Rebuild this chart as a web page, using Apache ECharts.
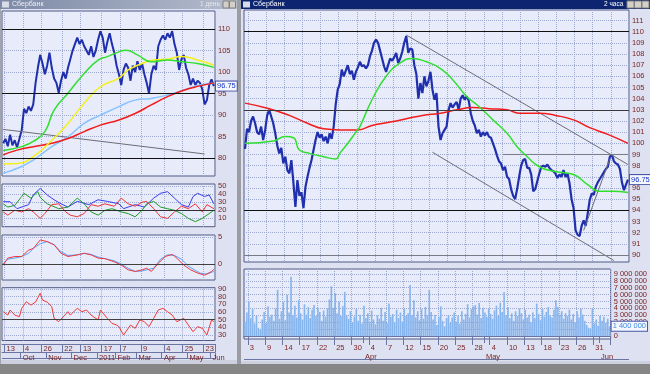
<!DOCTYPE html>
<html><head><meta charset="utf-8">
<script src="https://cdn.jsdelivr.net/npm/echarts@6.0.0/dist/echarts.min.js"></script>
<style>html,body{margin:0;padding:0;background:#dde1f1;}#c{width:650px;height:374px;}</style>
</head><body><div id="c"></div>
<script>
// ---------- LEFT WINDOW (daily, 2 trading days per category) ----------
const leftPrice = [83.5,84.5,82.8,85.5,83.0,84.2,82.5,84.5,86.5,91.5,
  90.5,92.0,91.0,92.5,97.5,101.0,104.0,102.0,99.5,101.5,
  104.5,101.0,98.5,97.5,95.2,98.0,100.0,98.5,101.0,103.0,
  105.0,106.5,108.0,106.5,107.5,106.0,105.0,104.0,106.0,103.5,
  105.0,107.5,109.5,108.0,104.5,107.0,109.0,106.5,104.5,101.5,
  99.5,97.0,100.5,102.0,101.0,98.0,101.5,100.0,102.5,100.5,
  102.0,99.5,97.5,95.0,99.5,101.5,100.5,106.0,107.5,108.5,
  107.5,109.0,108.0,109.5,106.5,104.5,100.5,103.0,104.0,101.0,
  99.5,97.0,98.5,97.0,98.0,97.5,96.0,92.5,93.5,97.0,98.3,96.75];
const leftGreenMA = [[0,81.8],[8,82.7],[13,83.9],[18,86.2],[22,91.2],[28,95.1],[35,99.7],[41,102.8],[45,103.6],[50,104.7],[53,105.1],[58,104.0],[64,102.4],[71,102.8],[77,102.4],[84,102.0],[91,101.1]];
const leftYellowMA = [[0,78.7],[6,78.8],[13,80.4],[21,84.2],[28,88.1],[35,92.8],[42,96.6],[50,98.6],[54,100.5],[60,102.0],[65,102.8],[71,103.0],[77,103.6],[84,102.8],[91,101.6]];
const leftBlueMA = [[0,76.5],[8,78.1],[13,79.6],[21,82.7],[28,85.0],[35,88.1],[42,90.0],[50,92.0],[57,93.5],[64,93.9],[71,94.7],[78,95.8],[85,97.0],[91,97.4]];
const leftRedMA = [[0,80.8],[6,81.9],[13,82.7],[21,83.5],[28,84.6],[35,86.2],[42,87.7],[50,88.9],[57,90.4],[64,92.4],[71,94.3],[78,95.8],[85,96.8],[91,97.5]];
const leftTrend = [[0,86.7],[87,81.0]];
const leftLevels = [110, 95, 80];
const leftLast = 96.75;

const dmiBlue = [[0,30.6],[3,30.6],[6,22],[11,27],[13,39],[16,47],[19,39],[22,33],[25,28],[28,24],[32,31],[37,27],[41,33],[45,31],[50,28],[52,22],[57,27],[61,24],[65,35],[68,41],[71,43],[74,35],[77,27],[80,24],[82,37],[84,41],[87,37],[89,39],[91,28]];
const dmiGreen = [[0,28],[2,24],[5,26],[8,37],[9,41],[12,35],[15,43],[16,36],[19,28],[24,22],[28,24],[32,35],[35,28],[38,18],[41,14],[44,20],[47,22],[51,18],[54,16],[57,12],[60,20],[62,28],[65,31],[68,24],[71,22],[74,20],[77,16],[80,10],[83,6],[86,10],[88,14],[91,20]];
const dmiRed = [[0,18],[2,14],[5,20],[8,18],[11,22],[13,18],[16,10],[18,16],[21,27],[24,28],[27,18],[29,14],[32,12],[35,16],[38,27],[41,25],[44,28],[48,25],[51,35],[54,28],[57,25],[60,30],[62,31],[65,22],[68,12],[71,10],[74,18],[77,25],[80,22],[83,28],[86,18],[88,27],[91,22]];
const macdRed = [[0,-0.2],[2,1.1],[5,1.4],[8,1.4],[11,2.6],[13,2.9],[16,4.5],[19,4.2],[22,3.6],[25,2.0],[28,1.4],[32,1.7],[35,2.0],[38,1.7],[41,1.1],[44,1.0],[48,0.4],[51,-0.2],[54,-1.1],[57,-1.4],[60,-1.1],[62,-0.8],[64,-1.4],[67,0.1],[70,1.4],[73,1.8],[75,1.1],[78,-0.2],[81,-1.1],[84,-1.7],[87,-2.1],[90,-1.4],[91,-1.0]];
const macdBlue = [[0,0],[2,0.9],[5,1.1],[8,1.4],[11,2.0],[13,2.9],[16,3.8],[19,4.2],[22,3.6],[25,2.3],[28,1.6],[32,1.7],[35,2.0],[38,1.8],[41,1.3],[44,1.0],[48,0.6],[51,0],[54,-0.8],[57,-1.4],[60,-1.3],[62,-1.1],[65,-0.8],[68,0.9],[71,1.7],[74,1.6],[77,0.9],[80,-0.4],[83,-1.2],[85,-1.7],[88,-1.9],[91,-1.4]];
const rsiRed = [[0,60.4],[2,56],[3,62.6],[5,56],[7,53.9],[8,64.8],[10,73.4],[12,69],[14,73],[16,84.4],[17,75.6],[19,73],[21,67],[22,51.8],[24,47.4],[26,53.9],[28,60.4],[29,56],[32,64.8],[34,60.4],[36,62.6],[38,56],[41,49.6],[42,62.6],[45,51.8],[47,45.2],[49,43],[50,40.9],[52,30],[55,43],[57,38.7],[59,49.6],[61,47.4],[63,40.9],[65,51.8],[67,62.6],[69,64.8],[71,60.4],[73,56],[75,47.4],[78,51.8],[80,43],[82,34.3],[84,40.9],[86,38.7],[88,30],[90,49.6],[91,47.4]];

const leftDayIdx = [1, 9, 17, 26, 34, 43, 51, 60, 70, 78, 87];
const leftDayLab = ['13','4','26','22','13','17','7','9','4','25','23'];
const leftMonIdx = [8, 19, 30, 41, 49, 58, 69, 80, 90];
const leftMonLab = ['Oct','Nov','Dec','2011','Feb','Mar','Apr','May','Jun'];
const leftPriceTicks = [80, 85, 90, 95, 100, 105, 110];
const dmiTicks = [10, 20, 30, 40, 50];
const macdTicks = [0, 5];
const rsiTicksA = [30, 50, 70, 90];
const rsiTicksB = [40, 60, 80];

// ---------- RIGHT WINDOW (2-hour, 1/3 trading day per category) ----------
const rightPrice = [99.5,101.3,101.0,102.0,102.4,101.8,101.0,100.8,101.5,100.3,
  101.2,102.5,103.0,102.4,101.8,100.9,99.8,99.1,99.6,98.2,
  98.8,97.6,97.3,98.5,96.5,94.3,96.7,95.3,95.6,94.2,
  96.1,97.0,97.8,98.5,99.4,100.3,101.0,100.5,100.8,100.2,
  100.6,100.0,100.9,100.4,101.5,103.5,104.8,105.3,106.6,106.0,
  106.5,107.0,106.2,106.5,105.7,106.4,106.8,107.3,106.9,107.0,
  106.7,107.0,107.8,108.3,109.0,109.3,109.0,108.3,107.6,106.9,
  106.4,107.0,107.6,107.4,107.7,108.1,107.2,107.6,108.2,109.0,
  109.6,108.1,108.5,108.4,107.0,106.2,104.0,105.4,104.5,106.0,
  105.1,105.6,106.4,104.8,103.9,104.5,101.5,100.3,100.9,101.2,
  101.5,103.0,103.6,103.2,103.5,103.7,103.0,104.0,104.3,103.9,
  104.2,103.8,102.7,102.0,101.6,100.9,101.2,100.6,101.0,100.7,
  101.0,100.6,100.5,100.0,99.5,98.9,98.4,98.2,97.6,97.9,
  97.0,96.8,95.9,95.3,95.0,95.9,97.0,98.0,98.5,98.6,
  97.8,97.8,97.2,95.7,95.9,96.6,97.3,97.9,98.0,97.9,
  98.1,97.8,97.6,97.5,97.3,96.9,97.2,97.0,97.6,97.0,
  97.3,96.4,95.0,94.2,92.2,91.8,91.7,92.6,93.1,92.6,
  93.7,94.9,95.5,95.4,96.1,96.5,96.8,97.1,97.4,97.7,
  97.9,98.8,99.0,98.4,98.2,98.1,97.7,96.5,95.8,96.3,96.75];
const rightGreenMA = [[0,100.0],[14,100.2],[20,100.6],[24,100.5],[27,99.4],[32,99.1],[39,98.8],[45,98.6],[47,99.1],[51,100.0],[55,101.0],[57,101.5],[63,103.9],[70,106.0],[77,107.2],[83,107.6],[90,107.3],[97,106.7],[103,105.7],[110,104.2],[116,103.3],[123,102.1],[130,100.9],[135,99.7],[140,98.8],[146,97.9],[153,97.5],[163,97.2],[170,96.3],[176,95.7],[182,95.7],[190,95.6]];
const rightRedMA = [[0,103.6],[12,103.1],[22,102.5],[31,101.8],[39,101.3],[47,101.2],[56,101.2],[63,101.6],[72,101.9],[80,102.2],[88,102.5],[97,102.7],[105,103.0],[113,103.2],[121,103.1],[130,103.0],[136,102.7],[146,102.7],[154,102.5],[163,102.1],[171,101.4],[180,100.8],[190,100.0]];
const channelUpper = [[80,109.7],[190,98.1]];
const channelLower = [[93,99.2],[183,89.5]];
const supportLine = [[168,92.2],[181,98.6]];
const resist99 = [[128,99],[190,99]];
const rightLevels = [110, 103, 94, 90];
const rightLast = 96.75;
const rightVol = [2.1,3.4,5.0,2.6,3.9,1.8,2.9,1.2,0.9,2.4,
  3.5,1.9,4.3,2.8,3.1,2.2,4.0,6.7,2.5,3.6,
  5.0,2.3,6.0,3.4,8.6,3.0,4.4,2.7,5.2,3.3,
  2.4,4.6,3.1,4.2,2.6,3.8,4.5,2.9,4.1,3.5,
  2.2,3.7,2.8,4.0,5.3,7.2,4.1,6.2,3.3,5.0,
  2.9,4.3,6.4,3.0,2.5,3.6,1.9,2.8,3.9,2.2,
  3.1,1.8,4.4,2.6,3.3,2.0,3.7,2.4,1.7,3.0,
  2.5,4.1,2.2,3.5,1.9,4.7,2.8,3.2,2.0,3.8,
  2.6,3.4,2.1,4.0,2.9,3.3,7.4,3.0,5.2,2.7,
  3.6,2.3,3.9,2.5,4.2,3.0,6.7,3.5,2.4,3.1,
  1.6,2.8,4.3,2.2,1.4,2.6,3.0,1.9,2.7,3.4,
  2.1,2.9,1.8,3.6,2.4,3.2,4.6,2.7,3.9,4.3,
  4.5,3.1,4.8,2.6,4.1,3.4,2.8,4.0,3.2,2.5,
  3.7,4.4,2.9,4.8,3.5,6.4,3.0,4.2,2.6,3.3,
  2.2,3.6,2.9,4.0,3.3,2.4,3.8,2.7,3.1,2.0,
  3.4,2.6,4.7,3.2,2.3,3.9,2.8,3.5,4.2,3.0,
  2.7,3.8,5.2,4.2,3.1,3.6,2.5,3.3,2.9,3.8,
  2.4,3.2,2.0,3.6,2.7,4.0,3.1,2.2,1.6,1.2,
  1.1,4.0,1.8,2.4,1.5,2.9,2.2,2.8,1.9,2.5,1.4];
const rightDayIdx = [2,11,20,29,38,47,56,65,74,83,92,101,110,119,128,137,146,155,164,173,182];
const rightDayLab = ['3','9','14','17','22','25','30','4','7','12','15','20','25','28','4','10','13','18','23','26','31'];
const rightMonIdx = [62, 125, 185];
const rightMonLab = ['Apr','May','Jun'];
const rightPriceTicks = [90,91,92,93,94,95,96,97,98,99,100,101,102,103,104,105,106,107,108,109,110,111];
const volTicksA = [0,2,4,6,8];
const volTicksB = [1,3,5,7,9];

// ---------- styling ----------
const FONT = 'Liberation Sans';
const LBL = '#7a2424';
const GRIDC = '#9ea9cf';
const PANEL_BG = '#e8ebf9';
const BORDER = '#4f5a86';
const BOXC = '#6b75a3';
const CLEAR = 'rgba(0,0,0,0)';

const leftCats = leftPrice.map((_, i) => String(i));
const rightCats = rightPrice.map((_, i) => String(i));

function inList(list) { return (i) => list.indexOf(i) >= 0; }

function xSplit(gridIndex, cats, idx) {
  return { type: 'category', gridIndex, data: cats, boundaryGap: true,
    axisLine: { show: false }, axisTick: { show: false }, axisLabel: { show: false },
    splitLine: { show: true, interval: inList(idx), lineStyle: { color: GRIDC, type: 'dotted', width: 1 } } };
}
function xLabels(gridIndex, cats, idx, labs, offset, tickLen) {
  const f = inList(idx);
  return { type: 'category', gridIndex, data: cats, boundaryGap: true, position: 'bottom', offset,
    axisLine: { show: true, lineStyle: { color: BOXC, width: 1 } },
    axisTick: { show: true, interval: f, length: tickLen, lineStyle: { color: BOXC, width: 1 } },
    axisLabel: { show: true, interval: f, formatter: (v, i) => { const p = idx.indexOf(i); return p >= 0 ? labs[p] : ''; },
      align: 'left', verticalAlign: 'top', margin: 1, padding: [0, 0, 0, 1], color: LBL, fontSize: 7.5, fontFamily: FONT, lineHeight: 8,
      hideOverlap: false },
    splitLine: { show: false } };
}
function yVal(gridIndex, min, max, ticks, fmt) {
  return { type: 'value', gridIndex, position: 'right', min, max,
    axisLine: { show: false },
    axisTick: { show: false, customValues: ticks },
    axisLabel: { show: true, customValues: ticks, formatter: fmt || ((v) => String(v)), color: LBL, fontSize: 7.5, fontFamily: FONT, margin: 3,
      lineHeight: 6, padding: 0, showMinLabel: true, showMaxLabel: true, hideOverlap: false },
    splitLine: { show: true, lineStyle: { color: GRIDC, type: 'dotted', width: 1 } } };
}
function fmtVol(v) {
  return String(Math.round(v * 1000000)).replace(/\B(?=(\d{3})+(?!\d))/g, ' ');
}
function line(xi, yi, data, color, width, smooth, extra) {
  return Object.assign({ type: 'line', xAxisIndex: xi, yAxisIndex: yi, data, symbol: 'none', showSymbol: false,
    smooth: smooth || false, lineStyle: { color, width }, itemStyle: { color }, silent: true, z: 3 }, extra || {});
}
function levelLines(levels, colors) {
  return levels.map((v, i) => ({ yAxis: v, lineStyle: { color: colors[i], type: 'solid', width: 1 }, label: { show: false } }));
}
function boxLabel(v, text, color) {
  return { yAxis: v, lineStyle: { color: CLEAR, width: 1, opacity: 1 }, label: { show: true, position: 'end', distance: 1, formatter: text,
    color: color, fontSize: 7.5, fontFamily: FONT, backgroundColor: '#f6f7ff', borderColor: '#4858a8', borderWidth: 1, padding: [1, 1, 0, 1] } };
}
const mlBase = { silent: true, symbol: ['none', 'none'], animation: false, z: 20 };

const grid = [
  { left: 2, top: 11, width: 213, height: 165 },
  { left: 2, top: 184, width: 213, height: 42.7 },
  { left: 2, top: 235, width: 213, height: 45 },
  { left: 2, top: 287.7, width: 213, height: 52.8 },
  { left: 244, top: 10, width: 385, height: 252 },
  { left: 244, top: 269, width: 385, height: 70 }
].map(g => Object.assign({ show: true, backgroundColor: PANEL_BG, borderColor: BORDER, borderWidth: 1, containLabel: false }, g));

const xAxis = [
  xSplit(0, leftCats, leftDayIdx),
  xSplit(1, leftCats, leftDayIdx),
  xSplit(2, leftCats, leftDayIdx),
  Object.assign(xLabels(3, leftCats, leftDayIdx, leftDayLab, 3.5, 8), { splitLine: { show: true, interval: inList(leftDayIdx), lineStyle: { color: GRIDC, type: 'dotted' } } }),
  xLabels(3, leftCats, leftMonIdx, leftMonLab, 12, 6.5),
  xSplit(4, rightCats, rightDayIdx),
  Object.assign(xLabels(5, rightCats, rightDayIdx, rightDayLab, 4, 9), { splitLine: { show: true, interval: inList(rightDayIdx), lineStyle: { color: GRIDC, type: 'dotted' } } }),
  xLabels(5, rightCats, rightMonIdx, rightMonLab, 13, 7)
];
const yAxis = [
  yVal(0, 75.89, 114.18, leftPriceTicks),
  yVal(1, -0.25, 52.47, dmiTicks),
  yVal(2, -3.0, 5.43, macdTicks),
  yVal(3, 22.83, 91.7, rsiTicksA),
  yVal(4, 89.37, 111.94, rightPriceTicks),
  yVal(5, -0.435, 9.72, volTicksA, fmtVol),
  yVal(3, 22.83, 91.7, rsiTicksB),
  yVal(5, -0.435, 9.72, volTicksB, fmtVol)
];

const lastVol = rightVol[rightVol.length - 1];
const series = [
  line(0, 0, leftPrice, '#1f2fae', 2, false, { markLine: Object.assign({}, mlBase, { data: levelLines(leftLevels, ['#101010', '#101010', '#101010']).concat([boxLabel(leftLast, String(leftLast), '#1838c0')]) }) }),
  line(0, 0, leftTrend, '#6d6d78', 1),
  line(0, 0, leftBlueMA, '#86c2ff', 1.5, true),
  line(0, 0, leftRedMA, '#f21c1c', 1.5, true),
  line(0, 0, leftYellowMA, '#f4f01c', 1.5, true),
  line(0, 0, leftGreenMA, '#2fe02f', 1.5, true),
  line(1, 1, dmiBlue, '#3a3cf0', 1, false, { markLine: Object.assign({}, mlBase, { data: levelLines([20], ['#303030']) }) }),
  line(1, 1, dmiGreen, '#1f9a2a', 1),
  line(1, 1, dmiRed, '#f03434', 1),
  line(2, 2, macdBlue, '#5aa2ff', 1, false, { markLine: Object.assign({}, mlBase, { data: levelLines([0], ['#404040']) }) }),
  line(2, 2, macdRed, '#f03a3a', 1),
  line(3, 3, rsiRed, '#f03a3a', 1, false, { markLine: Object.assign({}, mlBase, { data: levelLines([50], ['#404040']) }) }),
  line(5, 4, rightPrice, '#1f2fae', 2.2, false, { markLine: Object.assign({}, mlBase, { data: levelLines(rightLevels, ['#101010', '#3a3a3a', '#101010', '#7a7a84']).concat([boxLabel(rightLast, String(rightLast), '#1838c0')]) }) }),
  line(5, 4, channelUpper, '#6d6d78', 1),
  line(5, 4, channelLower, '#6d6d78', 1),
  line(5, 4, supportLine, '#6d6d78', 1),
  line(5, 4, resist99, '#7a7a84', 1),
  line(5, 4, rightRedMA, '#f21c1c', 1.5, true),
  line(5, 4, rightGreenMA, '#2fe02f', 1.5, true),
  { type: 'bar', xAxisIndex: 6, yAxisIndex: 5, data: rightVol, barCategoryGap: '15%', silent: true,
    itemStyle: { color: '#86b5ee' },
    markLine: Object.assign({}, mlBase, { data: [ boxLabel(lastVol, fmtVol(lastVol), '#3a8ae0') ] }) }
];

const T = (text, x, y, fill, size) => ({ type: 'text', x, y, silent: true, style: { text, fill, font: (size || 7) + 'px "' + FONT + '"', textVerticalAlign: 'top' } });
const R = (x, y, w, h, fill, stroke) => ({ type: 'rect', silent: true, shape: { x, y, width: w, height: h }, style: { fill: fill || 'none', stroke: stroke || null, lineWidth: 1 } });
const graphic = [
  { type: 'rect', silent: true, shape: { x: 0, y: 0, width: 237, height: 9 },
    style: { fill: new echarts.graphic.LinearGradient(0, 0, 1, 0, [{ offset: 0, color: '#7d89a6' }, { offset: 1, color: '#b4bccd' }]) } },
  R(2, 1.5, 7, 6, '#d8dce8'),
  T('Сбербанк', 12, 1, '#eef0f6', 7),
  T('1 день', 200, 1, '#e6e8ee', 6.5),
  R(223, 1, 6, 7, '#d4d0c8', '#808080'), R(229.5, 1, 6, 7, '#d4d0c8', '#808080'),
  R(241, 0, 409, 9, '#0d2470'),
  R(243, 1.5, 7, 6, '#d8dce8'),
  T('Сбербанк', 253, 1, '#ffffff', 7),
  T('2 часа', 604, 1, '#ffffff', 6.5),
  R(627, 1, 7, 7, '#d4d0c8', '#808080'), R(634.5, 1, 7, 7, '#d4d0c8', '#808080'), R(642, 1, 7, 7, '#d4d0c8', '#808080'),
  R(237, 0, 4, 374, '#9c9ca4'),
  R(0, 9, 1, 355, '#a4a4ac'),
  { type: 'line', silent: true, shape: { x1: 2, y1: 358.5, x2: 215, y2: 358.5 }, style: { stroke: BOXC, lineWidth: 1 } },
  { type: 'line', silent: true, shape: { x1: 244, y1: 359.5, x2: 629, y2: 359.5 }, style: { stroke: BOXC, lineWidth: 1 } },
  R(1, 360, 236, 4, '#cdd1df'),
  R(241, 361, 409, 3, '#cdd1df'),
  R(0, 364, 650, 10, '#868686')
];

const chart = echarts.init(document.getElementById('c'), null, { renderer: 'canvas' });
chart.setOption({ animation: false, backgroundColor: '#dde1f1', grid, xAxis, yAxis, series, graphic });
</script></body></html>
